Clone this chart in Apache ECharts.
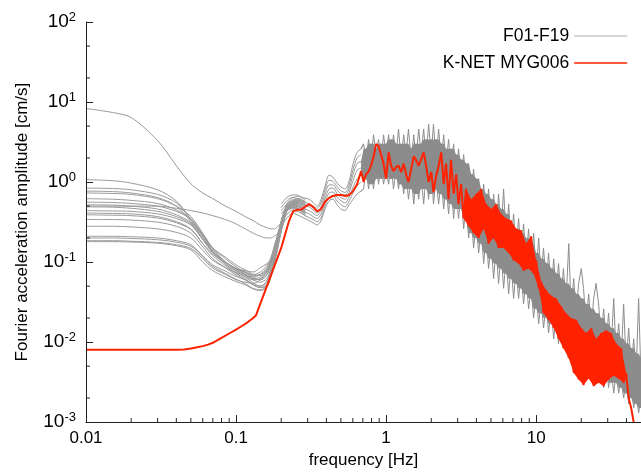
<!DOCTYPE html>
<html>
<head>
<meta charset="utf-8">
<script src="https://cdn.jsdelivr.net/npm/echarts@6/dist/echarts.min.js"></script>
<style>
  html, body { margin: 0; padding: 0; background: #fff; }
  #chart { width: 641px; height: 474px; }
</style>
</head>
<body>
<div id="chart"></div>
<script>
// low-frequency part of the 19 records F01-F19, frequency [Hz]
const freqLow = [0.01, 0.015, 0.02, 0.03, 0.04, 0.05, 0.06, 0.07, 0.085, 0.1, 0.115, 0.13, 0.145, 0.16, 0.17, 0.18, 0.19, 0.2, 0.21, 0.22, 0.24, 0.26, 0.29];

// amplitudes [cm/s] on freqLow
const f01 = [8.3, 7.4, 6.4, 3.3, 1.6, 0.95, 0.73, 0.62, 0.50, 0.43, 0.37, 0.33, 0.29, 0.27, 0.26, 0.26, 0.28, 0.31, 0.38, 0.47, 0.58, 0.62, 0.56];
const f02 = [0.50, 0.50, 0.50, 0.50, 0.47, 0.44, 0.41, 0.38, 0.34, 0.30, 0.26, 0.23, 0.21, 0.20, 0.20, 0.21, 0.23, 0.27, 0.35, 0.45, 0.55, 0.60, 0.55];
const f03 = [1.07, 1.04, 0.97, 0.80, 0.58, 0.34, 0.21, 0.135, 0.094, 0.078, 0.07, 0.065, 0.07, 0.085, 0.11, 0.16, 0.23, 0.33, 0.44, 0.55, 0.64, 0.66, 0.60];
const f04 = [0.84, 0.83, 0.80, 0.70, 0.55, 0.34, 0.22, 0.145, 0.10, 0.081, 0.072, 0.062, 0.06, 0.07, 0.095, 0.14, 0.21, 0.31, 0.42, 0.53, 0.60, 0.62, 0.57];
const f05 = [0.77, 0.76, 0.73, 0.64, 0.50, 0.32, 0.21, 0.135, 0.094, 0.074, 0.066, 0.06, 0.062, 0.075, 0.10, 0.15, 0.22, 0.32, 0.43, 0.52, 0.58, 0.59, 0.53];
const f06 = [0.73, 0.72, 0.70, 0.62, 0.50, 0.37, 0.23, 0.15, 0.11, 0.087, 0.075, 0.065, 0.06, 0.068, 0.09, 0.13, 0.2, 0.3, 0.41, 0.5, 0.56, 0.57, 0.51];
const f07 = [0.62, 0.61, 0.59, 0.54, 0.45, 0.35, 0.22, 0.15, 0.115, 0.092, 0.08, 0.07, 0.068, 0.075, 0.095, 0.14, 0.2, 0.3, 0.4, 0.48, 0.54, 0.56, 0.50];
const f08 = [0.56, 0.555, 0.54, 0.50, 0.43, 0.34, 0.21, 0.145, 0.10, 0.078, 0.065, 0.055, 0.05, 0.058, 0.08, 0.12, 0.19, 0.29, 0.4, 0.5, 0.57, 0.58, 0.52];
const f09 = [0.52, 0.515, 0.50, 0.46, 0.39, 0.31, 0.195, 0.135, 0.10, 0.083, 0.075, 0.07, 0.075, 0.09, 0.11, 0.15, 0.21, 0.3, 0.4, 0.5, 0.56, 0.55, 0.48];
const f10 = [0.49, 0.485, 0.47, 0.43, 0.37, 0.30, 0.195, 0.135, 0.10, 0.081, 0.07, 0.06, 0.056, 0.062, 0.08, 0.12, 0.18, 0.27, 0.37, 0.47, 0.53, 0.54, 0.47];
const f11 = [0.44, 0.435, 0.43, 0.40, 0.35, 0.29, 0.19, 0.13, 0.10, 0.083, 0.075, 0.068, 0.07, 0.08, 0.1, 0.14, 0.2, 0.29, 0.39, 0.48, 0.54, 0.53, 0.46];
const f12 = [0.41, 0.405, 0.40, 0.37, 0.32, 0.26, 0.17, 0.12, 0.09, 0.072, 0.062, 0.052, 0.048, 0.052, 0.07, 0.11, 0.17, 0.26, 0.37, 0.47, 0.52, 0.51, 0.44];
const f13 = [0.39, 0.385, 0.38, 0.355, 0.31, 0.255, 0.17, 0.125, 0.098, 0.083, 0.078, 0.075, 0.085, 0.095, 0.105, 0.13, 0.18, 0.27, 0.37, 0.46, 0.50, 0.49, 0.42];
const f14 = [0.34, 0.34, 0.335, 0.315, 0.28, 0.23, 0.155, 0.11, 0.085, 0.069, 0.06, 0.052, 0.05, 0.055, 0.075, 0.11, 0.17, 0.26, 0.36, 0.46, 0.51, 0.50, 0.43];
const f15 = [0.28, 0.28, 0.275, 0.26, 0.235, 0.2, 0.14, 0.105, 0.085, 0.074, 0.068, 0.062, 0.065, 0.08, 0.1, 0.14, 0.2, 0.29, 0.39, 0.48, 0.52, 0.50, 0.42];
const f16 = [0.21, 0.21, 0.207, 0.2, 0.185, 0.165, 0.12, 0.092, 0.077, 0.066, 0.06, 0.052, 0.048, 0.05, 0.065, 0.1, 0.16, 0.25, 0.35, 0.45, 0.49, 0.47, 0.40];
const f17 = [0.20, 0.2, 0.197, 0.19, 0.177, 0.158, 0.115, 0.088, 0.072, 0.061, 0.054, 0.047, 0.045, 0.05, 0.068, 0.1, 0.16, 0.25, 0.35, 0.45, 0.48, 0.46, 0.39];
const f18 = [0.185, 0.185, 0.182, 0.176, 0.165, 0.148, 0.11, 0.084, 0.07, 0.06, 0.056, 0.054, 0.06, 0.075, 0.092, 0.12, 0.17, 0.26, 0.36, 0.46, 0.49, 0.47, 0.40];
const f19 = [0.18, 0.18, 0.178, 0.172, 0.16, 0.142, 0.10, 0.078, 0.065, 0.057, 0.052, 0.046, 0.044, 0.048, 0.063, 0.095, 0.15, 0.24, 0.34, 0.44, 0.47, 0.45, 0.38];

// 0.2 - 50 Hz, where the records overlap into one band
const freqBand = [
  0.2, 0.212, 0.226, 0.24, 0.255, 0.271, 0.288, 0.307, 0.326, 0.347, 0.369, 0.392, 0.417, 0.443, 0.471, 0.5, 0.533, 0.567, 0.603, 0.641, 0.681,
  0.708, 0.736, 0.764, 0.794, 0.825, 0.858, 0.891, 0.926, 0.962, 1.0,
  1.04, 1.08, 1.12, 1.17, 1.21, 1.26, 1.31, 1.36, 1.41, 1.47,
  1.53, 1.58, 1.65, 1.71, 1.78, 1.85, 1.92, 2.0, 2.07, 2.15,
  2.24, 2.33, 2.42, 2.51, 2.61, 2.71, 2.82, 2.93, 3.04, 3.16,
  3.29, 3.41, 3.55, 3.69, 3.83, 3.98, 4.14, 4.3, 4.47, 4.64,
  4.82, 5.01, 5.21, 5.41, 5.62, 5.84, 6.07, 6.31, 6.56, 6.81,
  7.08, 7.36, 7.64, 7.94, 8.25, 8.58, 8.91, 9.26, 9.62, 10.0,
  10.4, 10.8, 11.2, 11.7, 12.1, 12.6, 13.1, 13.6, 14.1, 14.7,
  15.2, 15.8, 16.5, 17.1, 17.8, 18.5, 19.2, 20.0, 20.7, 21.5,
  22.4, 23.3, 24.2, 25.1, 26.1, 27.1, 28.2, 29.3, 30.4, 31.6,
  32.9, 34.1, 35.5, 36.9, 38.3, 39.8, 41.4, 43.0, 44.7, 46.4,
  48.2, 50.0
];

// F01-F19 band, upper to lower strands [cm/s] on freqBand
const bandA = [
  0.53, 0.61, 0.67, 0.69, 0.69, 0.65, 0.63, 0.61, 0.56, 0.50, 0.61, 0.89, 1.22, 1.15, 0.97, 0.87, 0.82, 1.03, 1.7, 2.35, 2.6,
  3.0, 1.9, 3.4, 1.9, 3.9, 2.2, 3.4, 1.9, 3.9, 2.2,
  3.9, 1.9, 3.9, 2.2, 4.6, 1.9, 3.9, 2.2, 4.6, 1.9,
  3.9, 1.9, 4.6, 2.2, 4.6, 1.9, 5.3, 2.2, 5.3, 1.9,
  4.6, 1.9, 3.9, 1.7, 3.4, 1.45, 3.0, 1.25, 2.6, 1.25,
  2.2, 0.94, 1.7, 0.71, 1.45, 0.53, 1.1, 0.46, 0.94, 0.40,
  0.82, 0.30, 0.71, 0.26, 0.71, 0.23, 0.82, 0.20, 0.53, 0.17,
  0.40, 0.15, 0.35, 0.13, 0.30, 0.11, 0.26, 0.083, 0.23, 0.072,
  0.20, 0.062, 0.15, 0.054, 0.13, 0.047, 0.11, 0.040, 0.096, 0.035,
  0.083, 0.030, 0.17, 0.026, 0.062, 0.023, 0.054, 0.083, 0.047, 0.017,
  0.040, 0.015, 0.035, 0.054, 0.030, 0.011, 0.026, 0.0096, 0.023, 0.0084,
  0.035, 0.0072, 0.017, 0.0063, 0.030, 0.0054, 0.015, 0.0047, 0.011, 0.0041,
  0.035, 0.0035
];
const bandB = [
  0.44, 0.50, 0.56, 0.58, 0.56, 0.53, 0.52, 0.49, 0.45, 0.41, 0.50, 0.71, 0.92, 0.92, 0.80, 0.71, 0.69, 0.82, 1.25, 1.7, 1.8,
  1.45, 2.6, 1.25, 3.0, 1.45, 2.6, 1.7, 3.0, 1.45, 3.0,
  1.7, 3.4, 1.45, 3.0, 1.25, 3.0, 1.45, 3.0, 1.25, 2.6,
  1.25, 3.0, 1.25, 3.0, 1.45, 3.4, 1.25, 3.4, 1.45, 3.4,
  1.25, 3.0, 1.1, 2.6, 0.94, 2.6, 0.94, 2.2, 0.82, 1.9,
  0.71, 1.7, 0.53, 1.25, 0.40, 1.1, 0.35, 0.82, 0.26, 0.71,
  0.23, 0.61, 0.20, 0.53, 0.17, 0.46, 0.15, 0.40, 0.13, 0.30,
  0.11, 0.26, 0.096, 0.23, 0.083, 0.20, 0.072, 0.17, 0.054, 0.13,
  0.047, 0.11, 0.040, 0.096, 0.035, 0.083, 0.030, 0.072, 0.026, 0.062,
  0.023, 0.054, 0.020, 0.047, 0.017, 0.040, 0.015, 0.035, 0.013, 0.030,
  0.011, 0.026, 0.0096, 0.023, 0.0084, 0.020, 0.0072, 0.017, 0.0063, 0.015,
  0.0054, 0.013, 0.0047, 0.011, 0.0041, 0.0096, 0.0035, 0.0084, 0.0031, 0.0072,
  0.0027, 0.0063
];
const bandC = [
  0.35, 0.41, 0.46, 0.48, 0.47, 0.45, 0.42, 0.40, 0.37, 0.35, 0.40, 0.56, 0.73, 0.75, 0.65, 0.58, 0.55, 0.65, 0.87, 1.1, 1.25,
  1.7, 1.1, 1.9, 0.94, 1.9, 1.1, 2.2, 1.1, 2.2, 1.25,
  1.9, 1.1, 2.2, 1.1, 1.9, 0.94, 1.9, 0.82, 1.9, 0.82,
  1.9, 0.71, 1.9, 0.82, 2.2, 0.82, 1.9, 0.71, 1.9, 0.82,
  1.7, 0.71, 1.7, 0.61, 1.45, 0.53, 1.25, 0.46, 1.1, 0.46,
  0.94, 0.35, 0.71, 0.23, 0.53, 0.20, 0.46, 0.17, 0.40, 0.13,
  0.35, 0.11, 0.26, 0.096, 0.23, 0.083, 0.23, 0.072, 0.20, 0.062,
  0.17, 0.054, 0.15, 0.047, 0.13, 0.040, 0.096, 0.035, 0.083, 0.026,
  0.072, 0.023, 0.054, 0.020, 0.047, 0.017, 0.040, 0.015, 0.035, 0.013,
  0.030, 0.011, 0.026, 0.0096, 0.023, 0.0084, 0.020, 0.0072, 0.017, 0.0063,
  0.015, 0.0054, 0.013, 0.0047, 0.011, 0.0041, 0.0096, 0.0035, 0.0084, 0.0031,
  0.0072, 0.0031, 0.0063, 0.0027, 0.0054, 0.0023, 0.0047, 0.0020, 0.0041, 0.0017,
  0.0035, 0.0015
];
const bandD = [
  0.26, 0.33, 0.38, 0.41, 0.39, 0.37, 0.35, 0.33, 0.31, 0.29, 0.33, 0.46, 0.58, 0.61, 0.52, 0.46, 0.44, 0.52, 0.61, 0.71, 0.77,
  0.82, 1.45, 0.82, 1.45, 0.82, 1.7, 0.94, 1.7, 0.94, 1.45,
  0.94, 1.7, 0.82, 1.45, 0.82, 1.45, 0.71, 1.25, 0.61, 1.25,
  0.53, 1.25, 0.61, 1.25, 0.53, 1.25, 0.61, 1.45, 0.53, 1.1,
  0.53, 1.1, 0.46, 0.94, 0.40, 0.94, 0.35, 0.82, 0.35, 0.71,
  0.26, 0.53, 0.20, 0.40, 0.15, 0.30, 0.13, 0.26, 0.096, 0.23,
  0.083, 0.17, 0.062, 0.15, 0.054, 0.13, 0.047, 0.11, 0.040, 0.096,
  0.035, 0.083, 0.035, 0.072, 0.030, 0.062, 0.026, 0.047, 0.020, 0.040,
  0.017, 0.035, 0.015, 0.030, 0.013, 0.026, 0.011, 0.023, 0.0096, 0.020,
  0.0084, 0.017, 0.0072, 0.015, 0.0063, 0.013, 0.0054, 0.011, 0.0047, 0.0096,
  0.0041, 0.0084, 0.0035, 0.0072, 0.0031, 0.0063, 0.0027, 0.0054, 0.0027, 0.0047,
  0.0023, 0.0041, 0.0023, 0.0035, 0.0020, 0.0031, 0.0017, 0.0027, 0.0015, 0.0023,
  0.0013, 0.0020
];
// further strands of the cluster between 0.2 and 0.7 Hz
const bandE = [0.48, 0.55, 0.62, 0.64, 0.62, 0.58, 0.56, 0.53, 0.50, 0.47, 0.56, 0.80, 1.05, 1.02, 0.88, 0.78, 0.74, 0.92, 1.45, 2.0, 2.2];
const bandF = [0.40, 0.46, 0.51, 0.53, 0.52, 0.49, 0.46, 0.44, 0.41, 0.38, 0.45, 0.63, 0.82, 0.84, 0.72, 0.64, 0.61, 0.74, 1.05, 1.4, 1.5];
const bandG = [0.30, 0.37, 0.42, 0.45, 0.43, 0.41, 0.38, 0.36, 0.34, 0.32, 0.36, 0.50, 0.65, 0.68, 0.58, 0.52, 0.49, 0.58, 0.74, 0.9, 1.0];

// K-NET MYG006
const freqRedLow = [0.01, 0.02, 0.03, 0.04, 0.045, 0.05, 0.055, 0.06, 0.065, 0.07, 0.08, 0.09, 0.1, 0.11, 0.12, 0.13, 0.136];
const redLow = [0.008, 0.008, 0.008, 0.008, 0.0081, 0.0083, 0.0086, 0.0089, 0.0093, 0.0098, 0.0113, 0.0128, 0.0143, 0.016, 0.0178, 0.020, 0.0217];
const redBand = [
  0.15, 0.22, 0.33, 0.43, 0.45, 0.45, 0.49, 0.53, 0.49, 0.43, 0.46, 0.57, 0.63, 0.67, 0.69, 0.69, 0.67, 0.69, 0.77, 0.94, 1.37,
  1.0, 1.25, 1.35, 1.6, 2.05, 3.0, 2.8, 2.2, 1.7, 1.1,
  2.35, 1.6, 1.37, 1.55, 1.6, 1.33, 1.7, 1.25, 1.0, 1.45,
  2.1, 1.9, 1.6, 1.9, 2.35, 1.6, 1.0, 1.33, 0.75, 1.15,
  1.6, 2.35, 0.94, 1.7, 0.61, 1.9, 0.71, 1.25, 0.53, 0.94,
  0.35, 0.82, 0.28, 0.61, 0.23, 0.71, 0.20, 0.82, 0.26, 0.53,
  0.17, 0.46, 0.20, 0.53, 0.15, 0.40, 0.15, 0.35, 0.13, 0.33,
  0.105, 0.26, 0.096, 0.25, 0.078, 0.17, 0.083, 0.21, 0.072, 0.105,
  0.047, 0.057, 0.023, 0.044, 0.019, 0.038, 0.015, 0.035, 0.011, 0.028,
  0.0084, 0.023, 0.0063, 0.020, 0.0041, 0.019, 0.0034, 0.015, 0.0029, 0.013,
  0.0035, 0.015, 0.0028, 0.011, 0.0031, 0.013, 0.0028, 0.014, 0.0034, 0.013,
  0.0038, 0.0096, 0.0035, 0.0084, 0.0031, 0.0041, 0.0020, 0.0015, 0.0010, 0.00063
];

// minor tick positions of the two log axes
const xMinorTicks = [0.02, 0.03, 0.04, 0.05, 0.06, 0.07, 0.08, 0.09, 0.2, 0.3, 0.4, 0.5, 0.6, 0.7, 0.8, 0.9, 2, 3, 4, 5, 6, 7, 8, 9, 20, 30, 40];
const yMinorTicks = [0.002, 0.005, 0.02, 0.05, 0.2, 0.5, 2, 5, 20, 50];

const X_MIN = 0.01, X_MAX = 50, Y_MIN = 0.001, Y_MAX = 100;
const FONT = 'Liberation Sans';
const GRAY = '#9a9a9a';
const BAND = '#8c8c8c';
const RED = '#ff2200';
const AXIS = '#222';
const SPLIT = 21;      // first dense point of freqBand (0.7 Hz)
const RED_FILL = 61;   // from ~3.3 Hz the red record is dense enough to read as a band

const pairs = (xs, ys) => ys.map((y, i) => [xs[i], y]);

let chart = echarts.init(document.getElementById('chart'));

let grayLine = (data, color, width) => ({
  name: 'F01-F19',
  type: 'line',
  data: data,
  symbol: 'none',
  lineStyle: { color: color, width: width },
  itemStyle: { color: GRAY },
  z: 2,
});

let series = [];
// dense band: fill the core of the band (inner strands), the outer strands stay as lines
series.push({
  type: 'custom',
  name: 'bandFill',
  silent: true,
  z: 1,
  data: [[X_MIN, Y_MIN]],
  renderItem: (params, api) => {
    let top = [], bottom = [];
    let n = freqBand.length;
    for (let i = SPLIT - 1; i < n; i++) {
      let vals = [];
      for (let j = Math.max(SPLIT - 1, i - 1); j <= Math.min(n - 1, i + 1); j++) vals.push(bandB[j], bandC[j]);
      top.push(api.coord([freqBand[i], Math.max(...vals)]));
      bottom.push(api.coord([freqBand[i], Math.min(...vals)]));
    }
    return { type: 'polygon', shape: { points: top.concat(bottom.reverse()) }, style: { fill: BAND } };
  },
});
[f01, f02, f03, f04, f05, f06, f07, f08, f09, f10, f11, f12, f13, f14, f15, f16, f17, f18, f19].forEach((c) => {
  let s = grayLine(pairs(freqLow, c), GRAY, 1);
  s.smooth = 0.3;
  series.push(s);
});
[bandE, bandF, bandG].forEach((b) => {
  let s = grayLine(pairs(freqBand, b), GRAY, 1);
  s.smooth = 0.3;
  series.push(s);
});
[bandA, bandB, bandC, bandD].forEach((b) => {
  let all = pairs(freqBand, b);
  let s = grayLine(all.slice(0, SPLIT + 1), GRAY, 1);
  s.smooth = 0.3;
  series.push(s);
  series.push(grayLine(all.slice(SPLIT - 1), BAND, 1));
});
// red record: fill between its peaks and troughs where it oscillates densely
series.push({
  type: 'custom',
  name: 'redFill',
  silent: true,
  z: 3,
  data: [[X_MIN, Y_MIN]],
  renderItem: (params, api) => {
    let peaks = [], troughs = [];
    for (let i = RED_FILL; i < redBand.length - 1; i++) {
      let p = api.coord([freqBand[i], redBand[i]]);
      if (redBand[i] >= redBand[i - 1] && redBand[i] >= redBand[i + 1]) peaks.push(p);
      if (redBand[i] <= redBand[i - 1] && redBand[i] <= redBand[i + 1]) troughs.push(p);
    }
    return { type: 'polygon', shape: { points: peaks.concat(troughs.reverse()) }, style: { fill: RED } };
  },
});
series.push({
  name: 'K-NET MYG006',
  type: 'line',
  data: pairs(freqRedLow, redLow).concat(pairs(freqBand, redBand)),
  symbol: 'none',
  lineStyle: { color: RED, width: 2 },
  itemStyle: { color: RED },
  z: 3,
});
// minor ticks, drawn through the axes' own scales
series.push({
  type: 'custom',
  name: 'xMinor',
  silent: true,
  z: 5,
  data: xMinorTicks.map((v) => [v, Y_MIN]),
  renderItem: (params, api) => {
    let p = api.coord([api.value(0), api.value(1)]);
    return { type: 'line', shape: { x1: p[0], y1: p[1], x2: p[0], y2: p[1] - 4 }, style: { stroke: AXIS, lineWidth: 1 } };
  },
});
series.push({
  type: 'custom',
  name: 'yMinor',
  silent: true,
  z: 5,
  data: yMinorTicks.map((v) => [X_MIN, v]),
  renderItem: (params, api) => {
    let p = api.coord([api.value(0), api.value(1)]);
    return { type: 'line', shape: { x1: p[0], y1: p[1], x2: p[0] + 4, y2: p[1] }, style: { stroke: AXIS, lineWidth: 1 } };
  },
});

let option = {
  animation: false,
  backgroundColor: '#fff',
  textStyle: { fontFamily: FONT },
  grid: { left: 86, right: 0, top: 22, bottom: 50, containLabel: false },
  legend: {
    data: [
      { name: 'F01-F19', lineStyle: { color: '#aaaaaa', width: 1 } },
      { name: 'K-NET MYG006', lineStyle: { color: RED, width: 1.6 } },
    ],
    orient: 'vertical',
    right: 13,
    top: 27,
    padding: 0,
    align: 'right',
    itemWidth: 53,
    itemHeight: 18,
    itemGap: 9,
    selectedMode: false,
    itemStyle: { opacity: 0 },
    textStyle: { fontFamily: FONT, fontSize: 17.5, color: '#000' },
  },
  xAxis: {
    type: 'log',
    logBase: 10,
    min: X_MIN,
    max: X_MAX,
    name: 'frequency [Hz]',
    nameLocation: 'middle',
    nameGap: 27,
    nameTextStyle: { fontFamily: FONT, fontSize: 17, color: '#000' },
    axisLine: { show: true, onZero: false, lineStyle: { color: AXIS, width: 1 } },
    axisTick: { show: true, inside: true, length: 7, lineStyle: { color: AXIS } },
    axisLabel: {
      fontFamily: FONT,
      fontSize: 17,
      color: '#000',
      margin: 8,
      showMaxLabel: false,
      formatter: (v) => String(+v.toPrecision(2)),
    },
    splitLine: { show: false },
    z: 4,
  },
  yAxis: {
    type: 'log',
    logBase: 10,
    min: Y_MIN,
    max: Y_MAX,
    name: 'Fourier acceleration amplitude [cm/s]',
    nameLocation: 'middle',
    nameGap: 55,
    nameTextStyle: { fontFamily: FONT, fontSize: 17, color: '#000' },
    axisLine: { show: true, onZero: false, lineStyle: { color: AXIS, width: 1 } },
    axisTick: { show: true, inside: true, length: 7, lineStyle: { color: AXIS } },
    axisLabel: {
      margin: 10,
      formatter: (v) => '{b|10}{e|' + Math.round(Math.log10(v)) + '}',
      rich: {
        b: { fontFamily: FONT, fontSize: 19, color: '#000', lineHeight: 23 },
        e: { fontFamily: FONT, fontSize: 13, color: '#000', lineHeight: 13, verticalAlign: 'top' },
      },
    },
    splitLine: { show: false },
    z: 4,
  },
  series: series,
};
chart.setOption(option);
</script>
</body>
</html>
